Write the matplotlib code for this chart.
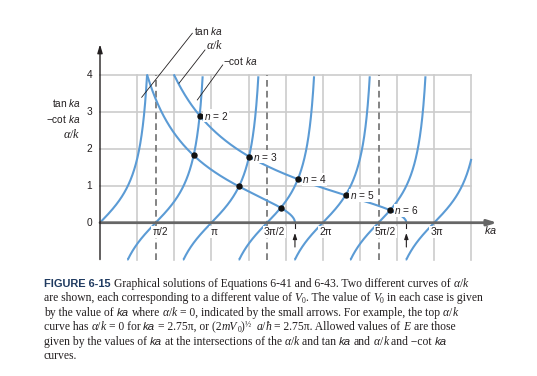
import re
import numpy as np
import matplotlib
matplotlib.use("Agg")
import matplotlib.pyplot as plt
from matplotlib.font_manager import FontProperties

# ---------------- data ----------------
alpha_zero_pi = [2.75, 1.75]          # ka (in units of pi) where alpha/k = 0 (top, bottom curve)
label_curve_index = 0                  # n labels are put on the top curve
xtick_pos_pi = [0.5, 1.0, 1.5, 2.0, 2.5, 3.0]
xtick_labels = ["π/2", "π", "3π/2", "2π", "5π/2", "3π"]
ytick_vals = [0, 1, 2, 3, 4]
grid_x_thirds = list(range(1, 11))      # vertical grid lines at j*pi/3
grid_y = [1, 2, 3, 4]
dashed_pi = [0.5, 1.5, 2.5]
n_tan_branches = 4
n_cot_branches = 3

caption_head = "FIGURE 6-15"
caption_lines = [
    "Graphical solutions of Equations 6-41 and 6-43. Two different curves of {i:α}/{i:k}",
    "are shown, each corresponding to a different value of {i:V}{sub:0}. The value of {i:V}{sub:0} in each case is given",
    "by the value of {s:ka} where {i:α}/{i:k} = 0, indicated by the small arrows. For example, the top {i:α}/{i:k}",
    "curve has {i:α}/{i:k} = 0 for {s:ka} = 2.75π, or (2{i:mV}{sub:0}){sup:½} {i:a}/{i:ħ} = 2.75π. Allowed values of {i:E} are those",
    "given by the values of {s:ka} at the intersections of the {i:α}/{i:k} and tan {s:ka} and {i:α}/{i:k} and −cot {s:ka}",
    "curves.",
]

# ---------------- style ----------------
plt.rcParams['font.family'] = ['Liberation Sans', 'DejaVu Sans']
plt.rcParams['mathtext.fontset'] = 'custom'
plt.rcParams['mathtext.rm'] = 'Liberation Serif'
plt.rcParams['mathtext.it'] = 'Liberation Serif:italic'
plt.rcParams['mathtext.sf'] = 'Liberation Sans:italic'
plt.rcParams['mathtext.bf'] = 'Liberation Sans:bold'

BLUE = '#5b9bd5'
GRID = '#cccccc'
DARK = '#231f20'
FS = 7.3

PI = np.pi
XMAX = 10 * PI / 3
YMIN, YMAX = -1.0, 4.0
W_PX, H_PX = 537, 376

fig = plt.figure(figsize=(5.37, 3.76), dpi=100)
ax = fig.add_axes([90 / W_PX, 0.2952, 420 / W_PX, 0.6516])
ax.set_xlim(-10 / 35.46, 410 / 35.46)
ax.set_ylim(-1.148, 5.50)
ax.axis('off')

# grid
for j in grid_x_thirds:
    ax.plot([j * PI / 3] * 2, [YMIN, YMAX], color=GRID, lw=1.2, zorder=1)
for g in grid_y:
    ax.plot([0, XMAX], [g, g], color=GRID, lw=1.2, zorder=1)
for d in dashed_pi:
    ax.plot([d * PI] * 2, [YMIN, YMAX], color='#6e6e6e', lw=1.2,
            dashes=(4, 2.5), zorder=2)

# tan branches
for j in range(n_tan_branches):
    lo = max(0.0, j * PI - PI / 2 + 1e-4)
    hi = min(j * PI + PI / 2 - 1e-4, XMAX)
    x = np.linspace(lo, hi, 600)
    y = np.tan(x)
    m = (y >= YMIN - 0.05) & (y <= YMAX + 0.05)
    ax.plot(x[m], np.clip(y[m], YMIN, YMAX), color=BLUE, lw=1.5, zorder=3,
            solid_capstyle='butt')

# -cot branches
for j in range(n_cot_branches):
    lo = j * PI + 1e-4
    hi = min((j + 1) * PI - 1e-4, XMAX)
    x = np.linspace(lo, hi, 600)
    y = -1.0 / np.tan(x)
    m = (y >= YMIN - 0.05) & (y <= YMAX + 0.05)
    ax.plot(x[m], np.clip(y[m], YMIN, YMAX), color=BLUE, lw=1.5, zorder=3,
            solid_capstyle='butt')


def alpha_k(x, K):
    return np.sqrt(np.maximum(K * K - x * x, 0.0)) / x


def g_func(x, m):
    return np.tan(x) if m % 2 == 0 else -1.0 / np.tan(x)


# alpha/k curves + intersections
for ci, z in enumerate(alpha_zero_pi):
    K = z * PI
    x = np.linspace(0.05, K, 800)
    y = alpha_k(x, K)
    m = y <= YMAX + 0.02
    ax.plot(x[m], np.clip(y[m], 0, YMAX), color=BLUE, lw=1.5, zorder=3)
    # arrow and tick at zero
    ax.plot([K, K], [0, -0.15], color=DARK, lw=0.8, zorder=4)
    ax.annotate('', xy=(K, -0.28), xytext=(K, -0.66),
                arrowprops=dict(arrowstyle='-|>,head_length=0.35,head_width=0.12',
                                color=DARK, lw=0.8, shrinkA=0, shrinkB=0))
    mi = 0
    while mi * PI / 2 < K:
        a = mi * PI / 2 + 1e-6
        b = min((mi + 1) * PI / 2 - 1e-6, K)
        fa = alpha_k(a, K) - g_func(a, mi)
        fb = alpha_k(b, K) - g_func(b, mi)
        if fa * fb < 0:
            for _ in range(80):
                c = 0.5 * (a + b)
                fc = alpha_k(c, K) - g_func(c, mi)
                if fa * fc <= 0:
                    b = c
                else:
                    a, fa = c, fc
            xs = 0.5 * (a + b)
            ys = alpha_k(xs, K)
            if ys <= YMAX:
                ax.plot(xs, ys, 'o', color='#111111', ms=3.6, zorder=5)
                if ci == label_curve_index:
                    ax.annotate(r'$\mathsf{n}$ = %d' % (mi + 1), xy=(xs, ys),
                                xytext=(3.0, 0), textcoords='offset points',
                                ha='left', va='center', fontsize=FS, color=DARK,
                                zorder=6,
                                bbox=dict(boxstyle='square,pad=0.05', fc='white',
                                          ec='none'))
        mi += 1

# axes lines
ax.annotate('', xy=(0, 4.84), xytext=(0, YMIN),
            arrowprops=dict(arrowstyle='-|>,head_length=0.5,head_width=0.15',
                            color=DARK, lw=1.0, shrinkA=0, shrinkB=0), zorder=6)
ax.annotate('', xy=(11.2, 0), xytext=(0, 0),
            arrowprops=dict(arrowstyle='-|>,head_length=0.55,head_width=0.17',
                            color='#666666', lw=2.0, shrinkA=0, shrinkB=0), zorder=4)

# tick labels
for p, lab in zip(xtick_pos_pi, xtick_labels):
    if '/' in lab:
        ax.text(p * PI - 0.10, -0.26, lab, ha='left', va='center', fontsize=FS,
                color=DARK, zorder=6,
                bbox=dict(boxstyle='square,pad=0.1', fc='white', ec='none'))
    else:
        ax.text(p * PI + 0.07, -0.26, lab, ha='center', va='center', fontsize=FS,
                color=DARK, zorder=6,
                bbox=dict(boxstyle='square,pad=0.1', fc='white', ec='none'))
for v in ytick_vals:
    ax.text(-0.22, v, str(v), ha='right', va='center', fontsize=FS, color=DARK)
ax.text(11.0, -0.21, r'$\mathsf{ka}$', ha='center', va='center', fontsize=FS + 0.5,
        color=DARK)

# y-axis stacked label
ax.text(-0.54, 3.256, r'tan $\mathsf{ka}$', ha='right', va='center', fontsize=FS, color=DARK)
ax.text(-0.54, 2.806, r'−cot $\mathsf{ka}$', ha='right', va='center', fontsize=FS, color=DARK)
ax.text(-0.54, 2.38, r'$\alpha/k$', ha='right', va='center', fontsize=FS + 1.5, color=DARK)

# leader labels
ax.plot([1.176, 2.603], [3.403, 5.14], color=DARK, lw=0.6, zorder=6, clip_on=False)
ax.text(2.66, 5.21, r'tan $\mathsf{ka}$', ha='left', va='center', fontsize=FS, color=DARK)
ax.plot([2.228, 2.961], [3.783, 4.687], color=DARK, lw=0.6, zorder=6)
ax.text(2.98, 4.82, r'$\alpha/k$', ha='left', va='center', fontsize=FS + 1.5, color=DARK)
ax.plot([2.744, 3.46], [3.33, 4.28], color=DARK, lw=0.6, zorder=6)
ax.text(3.46, 4.40, r'−cot $\mathsf{ka}$', ha='left', va='center', fontsize=FS, color=DARK)

# ---------------- caption (rich text built from segments) ----------------
CFS = 8.4
renderer = fig.canvas.get_renderer()
SERIF = ['Liberation Serif', 'DejaVu Serif']
SANS = ['Liberation Sans', 'DejaVu Sans']
STYLES = {
    'r':   dict(family=SERIF, style='normal', size=CFS, dy=0.0),
    'i':   dict(family=SERIF, style='italic', size=CFS, dy=0.0),
    's':   dict(family=SANS, style='italic', size=CFS * 0.98, dy=0.0),
    'sub': dict(family=SERIF, style='normal', size=CFS * 0.65, dy=-2.0),
    'sup': dict(family=SERIF, style='normal', size=CFS * 0.7, dy=4.2),
}


def text_adv(s, st):
    prop = FontProperties(family=st['family'], style=st['style'], size=st['size'])
    w1 = renderer.get_text_width_height_descent('|' + s + '|', prop, ismath=False)[0]
    w0 = renderer.get_text_width_height_descent('||', prop, ismath=False)[0]
    return w1 - w0


def rich_line(x_px, base_px, markup):
    parts = []
    pos = 0
    for mt in re.finditer(r'\{(\w+):([^}]*)\}', markup):
        if mt.start() > pos:
            parts.append(('r', markup[pos:mt.start()]))
        parts.append((mt.group(1), mt.group(2)))
        pos = mt.end()
    if pos < len(markup):
        parts.append(('r', markup[pos:]))
    x = x_px
    for key, s in parts:
        st = STYLES[key]
        lead = len(s) - len(s.lstrip(' '))
        trail = len(s) - len(s.rstrip(' '))
        core = s.strip(' ')
        sp = text_adv(' ', st)
        x += lead * sp
        if core:
            fig.text(x / W_PX, 1 - (base_px - st['dy']) / H_PX, core,
                     family=st['family'], style=st['style'], fontsize=st['size'],
                     color=DARK, ha='left', va='baseline')
            x += text_adv(core, st)
        x += trail * sp
    return x


fig.text(44 / W_PX, 1 - 287 / H_PX, caption_head, fontsize=7.9, fontweight='bold',
         family=['Liberation Sans Narrow', 'Liberation Sans'], color='#1f3a60',
         ha='left', va='baseline')
for i, line in enumerate(caption_lines):
    x0 = 114 if i == 0 else 44
    rich_line(x0, 287 + 14.4 * i, line)

fig.savefig('out.png', dpi=100)
